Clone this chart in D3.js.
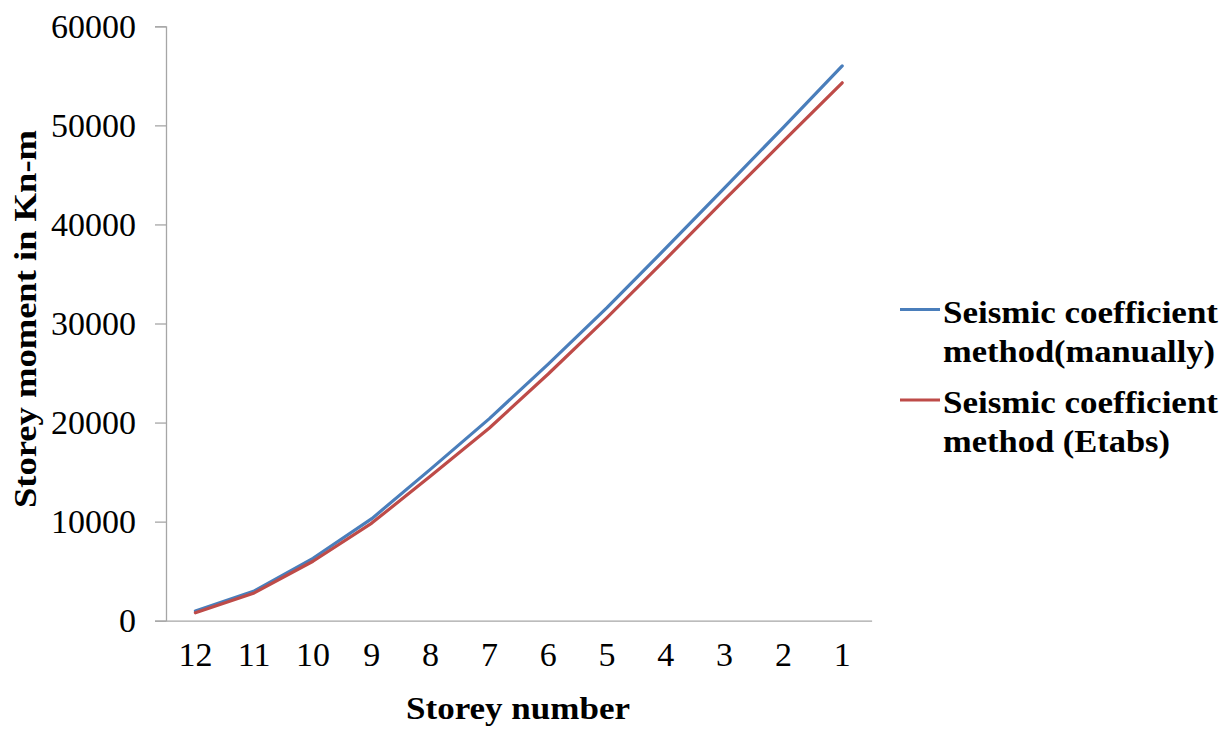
<!DOCTYPE html>
<html>
<head>
<meta charset="utf-8">
<script src="https://cdn.jsdelivr.net/npm/d3@7/dist/d3.min.js"></script>
<style>
  html, body { margin: 0; padding: 0; background: #fff; }
  svg { display: block; }
  text { font-family: "Liberation Serif", "Times New Roman", serif; fill: #000; }
</style>
</head>
<body>
<svg id="chart" width="1227" height="729"></svg>
<script>
// Storey labels along the x axis (top storey first)
const storeys = ["12", "11", "10", "9", "8", "7", "6", "5", "4", "3", "2", "1"];

// Storey moment (kN-m), seismic coefficient method computed by hand
const manualMoment = [980, 3000, 6300, 10300, 15300, 20400, 25900, 31600, 37600, 43700, 49800, 56000];

// Storey moment (kN-m), seismic coefficient method from Etabs
const etabsMoment = [800, 2800, 6000, 9850, 14600, 19450, 24900, 30600, 36500, 42500, 48400, 54300];

const yTicks = [0, 10000, 20000, 30000, 40000, 50000, 60000];

const seriesNames = [
  ["Seismic coefficient", "method(manually)"],
  ["Seismic coefficient", "method (Etabs)"]
];
const seriesColors = ["#4a7ebb", "#be4b48"];

const svg = d3.select("#chart");
const plot = { left: 166, right: 871.6, top: 26.3, bottom: 620.7 };

const x = d3.scaleBand().domain(storeys).range([plot.left, plot.right]);
const y = d3.scaleLinear().domain([0, 60000]).range([plot.bottom, plot.top]);

const axisColor = "#a6a6a6";

// Y axis
const yAxis = svg.append("g")
  .attr("transform", `translate(${plot.left},0)`)
  .call(d3.axisLeft(y).tickValues(yTicks).tickSize(11).tickPadding(19).tickFormat(d3.format("d")));
yAxis.select(".domain").attr("stroke", axisColor).attr("stroke-width", 1.3);
yAxis.selectAll(".tick line").attr("stroke", axisColor).attr("stroke-width", 1.3);
yAxis.selectAll(".tick text")
  .attr("font-size", 34)
  .attr("font-family", "Liberation Serif, serif")
  .attr("fill", "#000")
  .attr("dy", "0.33em");

// X axis
const xAxis = svg.append("g")
  .attr("transform", `translate(0,${plot.bottom})`)
  .call(d3.axisBottom(x).tickSize(0).tickPadding(27));
xAxis.select(".domain").attr("stroke", axisColor).attr("stroke-width", 1.3);
xAxis.selectAll(".tick text")
  .attr("font-size", 34)
  .attr("font-family", "Liberation Serif, serif")
  .attr("fill", "#000")
  .attr("dy", "0.55em");

// Series lines
const line = d3.line()
  .x((d, i) => x(storeys[i]) + x.bandwidth() / 2)
  .y(d => y(d));

[manualMoment, etabsMoment].forEach((vals, k) => {
  svg.append("path")
    .datum(vals)
    .attr("fill", "none")
    .attr("stroke", seriesColors[k])
    .attr("stroke-width", 3.2)
    .attr("stroke-linejoin", "round")
    .attr("stroke-linecap", "round")
    .attr("d", line);
});

// Bold labels are set slightly wide, as in the original layout
function boldText(sel, str, size, width) {
  return sel.attr("font-size", size)
    .attr("font-weight", "bold")
    .attr("textLength", width)
    .attr("lengthAdjust", "spacingAndGlyphs")
    .text(str);
}

// Axis titles
boldText(svg.append("text")
  .attr("x", 518 - 112)
  .attr("y", 719), "Storey number", 32, 224);

boldText(svg.append("text")
  .attr("transform", "translate(36,508) rotate(-90)"), "Storey moment in Kn-m", 32, 378);

// Legend
const legendY = [309.5, 400];
const legendWidths = [[275, 272], [275, 227]];
seriesNames.forEach((lines, k) => {
  const g = svg.append("g");
  g.append("line")
    .attr("x1", 900).attr("x2", 940)
    .attr("y1", legendY[k]).attr("y2", legendY[k])
    .attr("stroke", seriesColors[k])
    .attr("stroke-width", 3.2);
  lines.forEach((t, j) => {
    boldText(g.append("text")
      .attr("x", 943)
      .attr("y", legendY[k] + 13 + j * 39), t, 32, legendWidths[k][j]);
  });
});
</script>
</body>
</html>
